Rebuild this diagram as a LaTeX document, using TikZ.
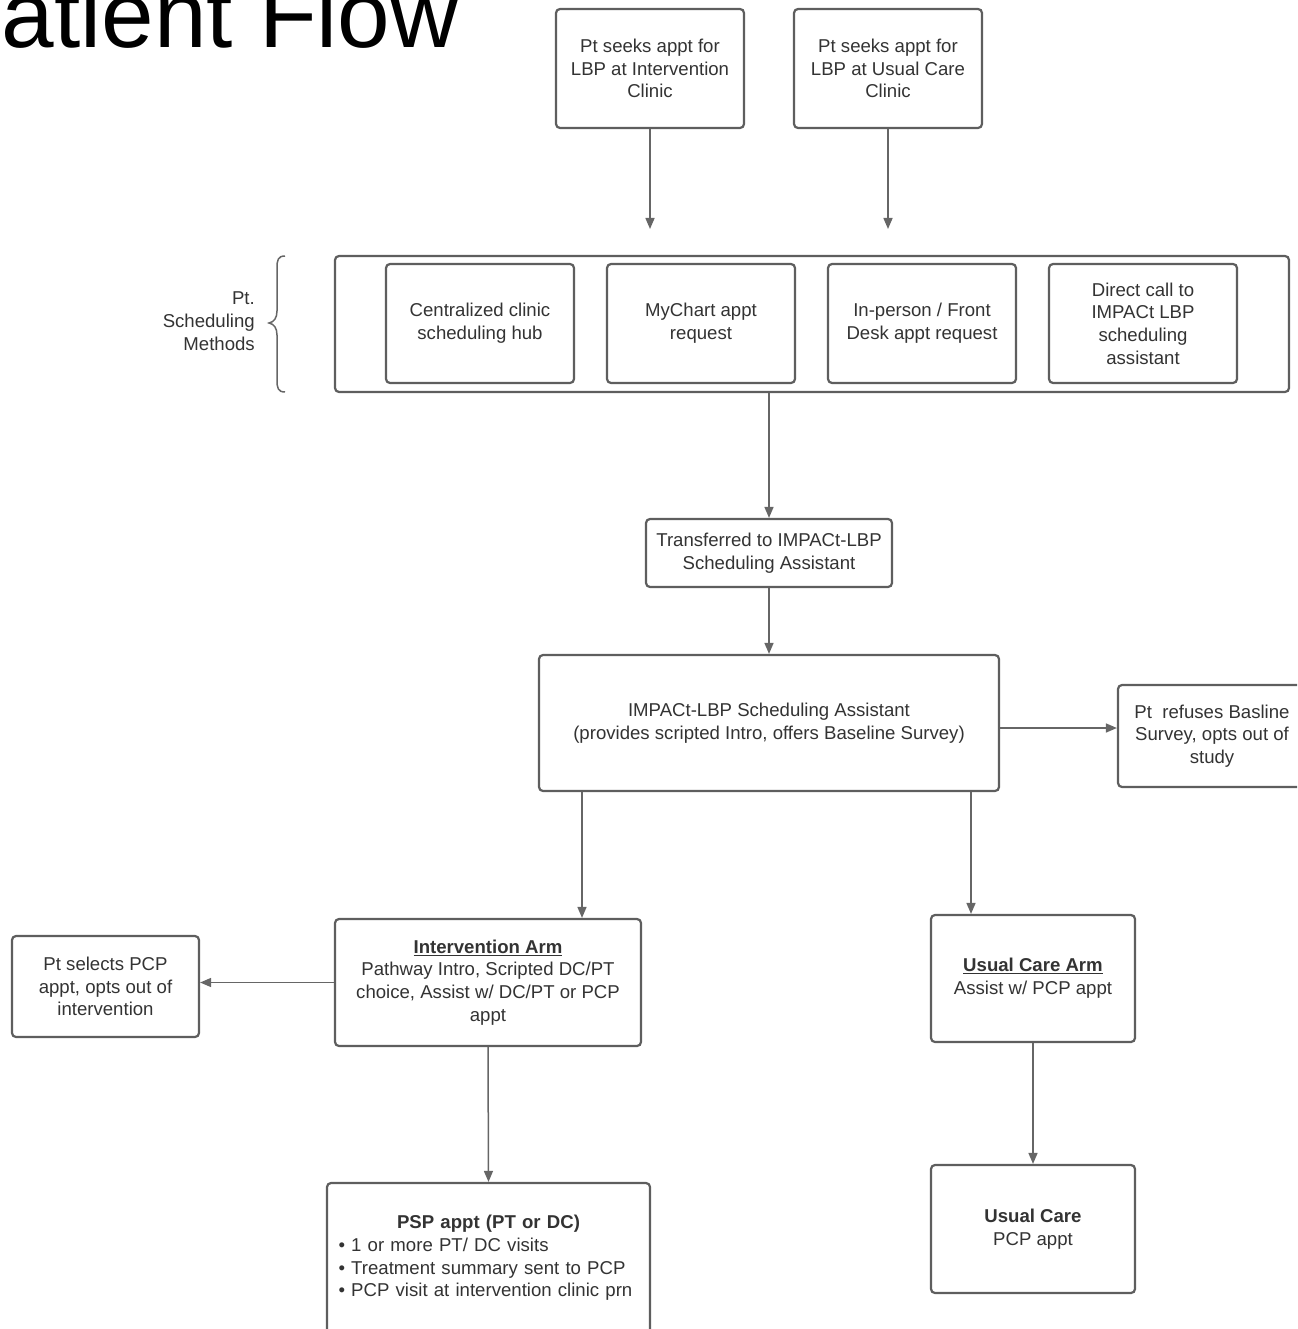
\documentclass[tikz,border=0pt]{standalone}
\usepackage{fontspec}
\setmainfont{Liberation Sans}
\usetikzlibrary{arrows.meta}
\definecolor{boxgray}{HTML}{5E5E5E}
\definecolor{arrgray}{HTML}{666666}
\definecolor{txtgray}{HTML}{333333}
\begin{document}
\begin{tikzpicture}[x=1pt,y=-1pt,
  box/.style={draw=boxgray, line width=2.2pt, rounded corners=4pt, fill=white, align=center, text=txtgray, font=\fontsize{18.6}{22.7}\selectfont, inner sep=0pt},
  arr/.style={draw=arrgray, line width=1.5pt, -{Triangle[length=11pt,width=9pt]}},
  lbl/.style={text=txtgray, font=\fontsize{18.6}{22.7}\selectfont, inner sep=0pt}]
\useasboundingbox (0,0) rectangle (1297,1329);
\clip (0,0) rectangle (1297,1329);
% title
\node[anchor=base west, inner sep=0pt, font=\fontsize{94.5}{94.5}\selectfont] (title) at (1.5,47.5) {atient Flow};
% top boxes
\node[box, minimum width=188, minimum height=119] (seekI) at (650,68.5) {Pt seeks appt for\\LBP at Intervention\\Clinic};
\node[box, minimum width=188, minimum height=119] (seekU) at (888,68.5) {Pt seeks appt for\\LBP at Usual Care\\Clinic};
\coordinate (endI) at (650,229);
\coordinate (endU) at (888,229);
\draw[arr] (seekI.south) -- (endI);
\draw[arr] (seekU.south) -- (endU);
% scheduling methods
\node[box, minimum width=954, minimum height=136] (methods) at (812,324) {};
\node[box, minimum width=188, minimum height=119] (hub) at (480,323.5) {Centralized clinic\\scheduling hub};
\node[box, minimum width=188, minimum height=119] (mychart) at (701,323.5) {MyChart appt\\request};
\node[box, minimum width=188, minimum height=119] (inperson) at (922,323.5) {In-person / Front\\Desk appt request};
\node[box, minimum width=188, minimum height=119] (direct) at (1143,323.5) {Direct call to\\IMPACt LBP\\scheduling\\assistant};
% brace and label
\draw[draw=arrgray, line width=1.5pt] (285,256) .. controls (278,256) and (277,260) .. (277,268) -- (277,311) .. controls (277,318) and (274,322) .. (269,323) .. controls (274,324) and (277,328) .. (277,335) -- (277,380) .. controls (277,388) and (278,392) .. (285,392);
\node[lbl, align=right, anchor=east] (methlbl) at (255,321) {Pt.\\Scheduling\\Methods};
% transfer
\node[box, minimum width=246, minimum height=68] (transfer) at (769,553) {Transferred to IMPACt-LBP\\Scheduling Assistant};
\draw[arr] (transfer |- methods.south) -- (transfer.north);
% main
\node[box, minimum width=460, minimum height=136] (main) at (769,723) {IMPACt-LBP Scheduling Assistant\\(provides scripted Intro, offers Baseline Survey)};
\draw[arr] (transfer.south) -- (main.north);
% refuse
\node[box, minimum width=188, minimum height=102] (refuse) at (1212,736) {Pt\ \ refuses Basline\\Survey, opts out of\\study};
\draw[arr] ([yshift=-5pt]main.east) -- ([yshift=-5pt]main.east -| refuse.west);
% arms
\node[box, minimum width=306, minimum height=127] (interv) at (488,982.5) {\underline{\textbf{Intervention Arm}}\\Pathway Intro, Scripted DC/PT\\choice, Assist w/ DC/PT or PCP\\appt};
\node[box, minimum width=204, minimum height=127] (usualarm) at (1033,978.5) {\underline{\textbf{Usual Care Arm}}\\Assist w/ PCP appt};
\draw[arr] ([xshift=-187pt]main.south) -- ([xshift=-187pt]main.south |- interv.north);
\draw[arr] ([xshift=202pt]main.south) -- ([xshift=202pt]main.south |- usualarm.north);
% opt out
\node[box, minimum width=187, minimum height=101] (optout) at (105.5,986.5) {Pt selects PCP\\appt, opts out of\\intervention};
\draw[arr] (interv.west) -- (interv.west -| optout.east);
% bottom
\node[box, minimum width=323, minimum height=150, text width=300, align=left] (psp) at (488.5,1258) {{\centering\textbf{PSP appt (PT or DC)}\par}• 1 or more PT/ DC visits\\• Treatment summary sent to PCP\\• PCP visit at intervention clinic prn};
\draw[arr] (interv.south) -- (psp.north);
\node[box, minimum width=204, minimum height=128] (usual) at (1033,1229) {\textbf{Usual Care}\\PCP appt};
\draw[arr] (usualarm.south) -- (usual.north);
\end{tikzpicture}
\end{document}
